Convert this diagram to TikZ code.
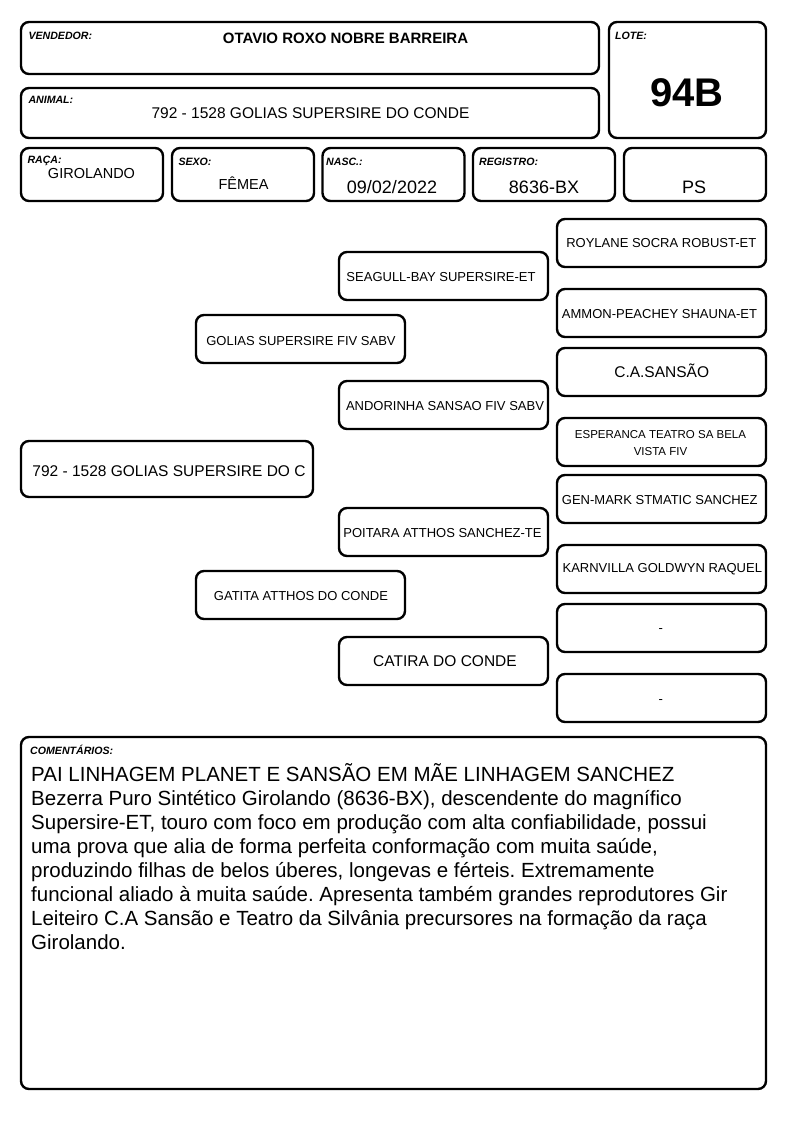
\documentclass[tikz,border=0pt]{standalone}
\usepackage{fontspec}
\setmainfont{Liberation Sans}
\usetikzlibrary{positioning}
\frenchspacing

\begin{document}
\begin{tikzpicture}[
    x=1pt, y=-1pt,
    frame/.style   ={draw, line width=2.4pt, rounded corners=8pt, inner sep=0pt},
    cell/.style    ={frame, minimum width=142pt, minimum height=53pt},
    ped/.style     ={frame, minimum width=209pt, minimum height=48pt},
    tag/.style     ={inner sep=0pt, anchor=north west,
                     font=\fontsize{10.6}{12}\selectfont\bfseries\itshape},
    value/.style   ={inner sep=0pt, anchor=base, font=\fontsize{14.5}{17}\selectfont},
    bigvalue/.style={value, font=\fontsize{18}{21}\selectfont},
    pedtext/.style ={inner sep=0pt, anchor=base, font=\fontsize{13}{15}\selectfont},
    pedbig/.style  ={pedtext, font=\fontsize{15.5}{18}\selectfont}
]
\fill[white] (0,0) rectangle (794,1123);
\useasboundingbox (0,0) rectangle (794,1123);

% =================== Header (vendedor / animal / lote) ===================
\node[frame, minimum width=578pt, minimum height=52pt] (vend) at (310,48) {};
\node[tag] (vendtag) at (28.3,32) {VENDEDOR:};
\node[value, font=\fontsize{15}{18}\selectfont\bfseries] (vendval) at (345.5,43.3)
    {OTAVIO ROXO NOBRE BARREIRA};

\node[frame, minimum width=578pt, minimum height=50pt] (animal) at (310,113) {};
\node[tag] (animaltag) at (28.3,96.3) {ANIMAL:};
\node[value, font=\fontsize{15.5}{18}\selectfont] (animalval) at (310.5,118.3)
    {792 - 1528 GOLIAS SUPERSIRE DO CONDE};

\node[frame, minimum width=157pt, minimum height=116pt] (lote) at (687.5,80) {};
\node[tag] (lotetag) at (615,32) {LOTE:};
\node[value, font=\fontsize{40}{46}\selectfont\bfseries] (loteval) at (686.7,107) {94B};

% =================== Data row ===================
\node[cell] (raca) at (92,174.5) {};
\node[tag] (racatag) at (27.3,156.3) {RAÇA:};
\node[value] (racaval) at (91.5,178.3) {GIROLANDO};

\node[cell] (sexo) at (243,174.5) {};
\node[tag] (sexotag) at (178.3,158) {SEXO:};
\node[value] (sexoval) at (243.5,189.3) {FÊMEA};

\node[cell] (nasc) at (393.5,174.5) {};
\node[tag] (nasctag) at (326,158) {NASC.:};
\node[bigvalue] (nascval) at (392,193.3) {09/02/2022};

\node[cell] (reg) at (544,174.5) {};
\node[tag] (regtag) at (479,158) {REGISTRO:};
\node[bigvalue] (regval) at (544,193.3) {8636-BX};

\node[cell] (cat) at (695,174.5) {};
\node[bigvalue] (catval) at (694,193.3) {PS};

% =================== Pedigree: animal, pais ===================
\node[frame, minimum width=292pt, minimum height=56pt] (p0) at (167,469) {};
\node[pedbig] (p0txt) at (169,476.7) {792 - 1528 GOLIAS SUPERSIRE DO C};

\node[ped] (pai) at (300.5,339) {};
\node[pedtext] (paitxt) at (301,345) {GOLIAS SUPERSIRE FIV SABV};
\node[ped] (mae) at (300.5,595) {};
\node[pedtext] (maetxt) at (301,600) {GATITA ATTHOS DO CONDE};

% =================== Pedigree: avos ===================
\node[ped] (pp) at (443.5,276) {};
\node[pedtext] (pptxt) at (441,281.7) {SEAGULL-BAY SUPERSIRE-ET};
\node[ped] (pm) at (443.5,405) {};
\node[pedtext] (pmtxt) at (445,410.7) {ANDORINHA SANSAO FIV SABV};
\node[ped] (mp) at (443.5,532) {};
\node[pedtext] (mptxt) at (442.5,537) {POITARA ATTHOS SANCHEZ-TE};
\node[ped] (mm) at (443.5,661) {};
\node[pedbig] (mmtxt) at (445,666.7) {CATIRA DO CONDE};

% =================== Pedigree: bisavos ===================
\node[ped] (ppp) at (661.5,243) {};
\node[pedtext] (ppptxt) at (661.3,247.3) {ROYLANE SOCRA ROBUST-ET};
\node[ped] (ppm) at (661.5,313) {};
\node[pedtext] (ppmtxt) at (659.5,318.3) {AMMON-PEACHEY SHAUNA-ET};
\node[ped] (pmp) at (661.5,372) {};
\node[pedbig] (pmptxt) at (661.7,377.3) {C.A.SANSÃO};
\node[ped] (pmm) at (661.5,442) {};
\node[pedtext, font=\fontsize{11.5}{17.3}\selectfont, align=center, anchor=north]
    (pmmtxt) at (660.5,430) {ESPERANCA TEATRO SA BELA\\VISTA FIV};
\node[ped] (mpp) at (661.5,499) {};
\node[pedtext] (mpptxt) at (659.7,504.3) {GEN-MARK STMATIC SANCHEZ};
\node[ped] (mpm) at (661.5,569) {};
\node[pedtext] (mpmtxt) at (662.3,572.7) {KARNVILLA GOLDWYN RAQUEL};
\node[ped] (mmp) at (661.5,628) {};
\node[pedtext] (mmptxt) at (660.7,632) {-};
\node[ped] (mmm) at (661.5,698) {};
\node[pedtext] (mmmtxt) at (660.7,703) {-};

% =================== Comentarios ===================
\node[frame, minimum width=745pt, minimum height=352pt] (obs) at (393.5,913) {};
\node[tag] (obstag) at (30,745.3) {COMENTÁRIOS:};
\node[inner sep=0pt, anchor=north west, align=left,
      font=\fontsize{20.5}{24}\selectfont] (obstxt) at (31,763.5)
    {PAI LINHAGEM PLANET E SANSÃO EM MÃE LINHAGEM SANCHEZ\\
     Bezerra Puro Sintético Girolando (8636-BX), descendente do magnífico\\
     Supersire-ET, touro com foco em produção com alta confiabilidade, possui\\
     uma prova que alia de forma perfeita conformação com muita saúde,\\
     produzindo filhas de belos úberes, longevas e férteis. Extremamente\\
     funcional aliado à muita saúde. Apresenta também grandes reprodutores Gir\\
     Leiteiro C.A Sansão e Teatro da Silvânia precursores na formação da raça\\
     Girolando.};

\end{tikzpicture}
\end{document}
